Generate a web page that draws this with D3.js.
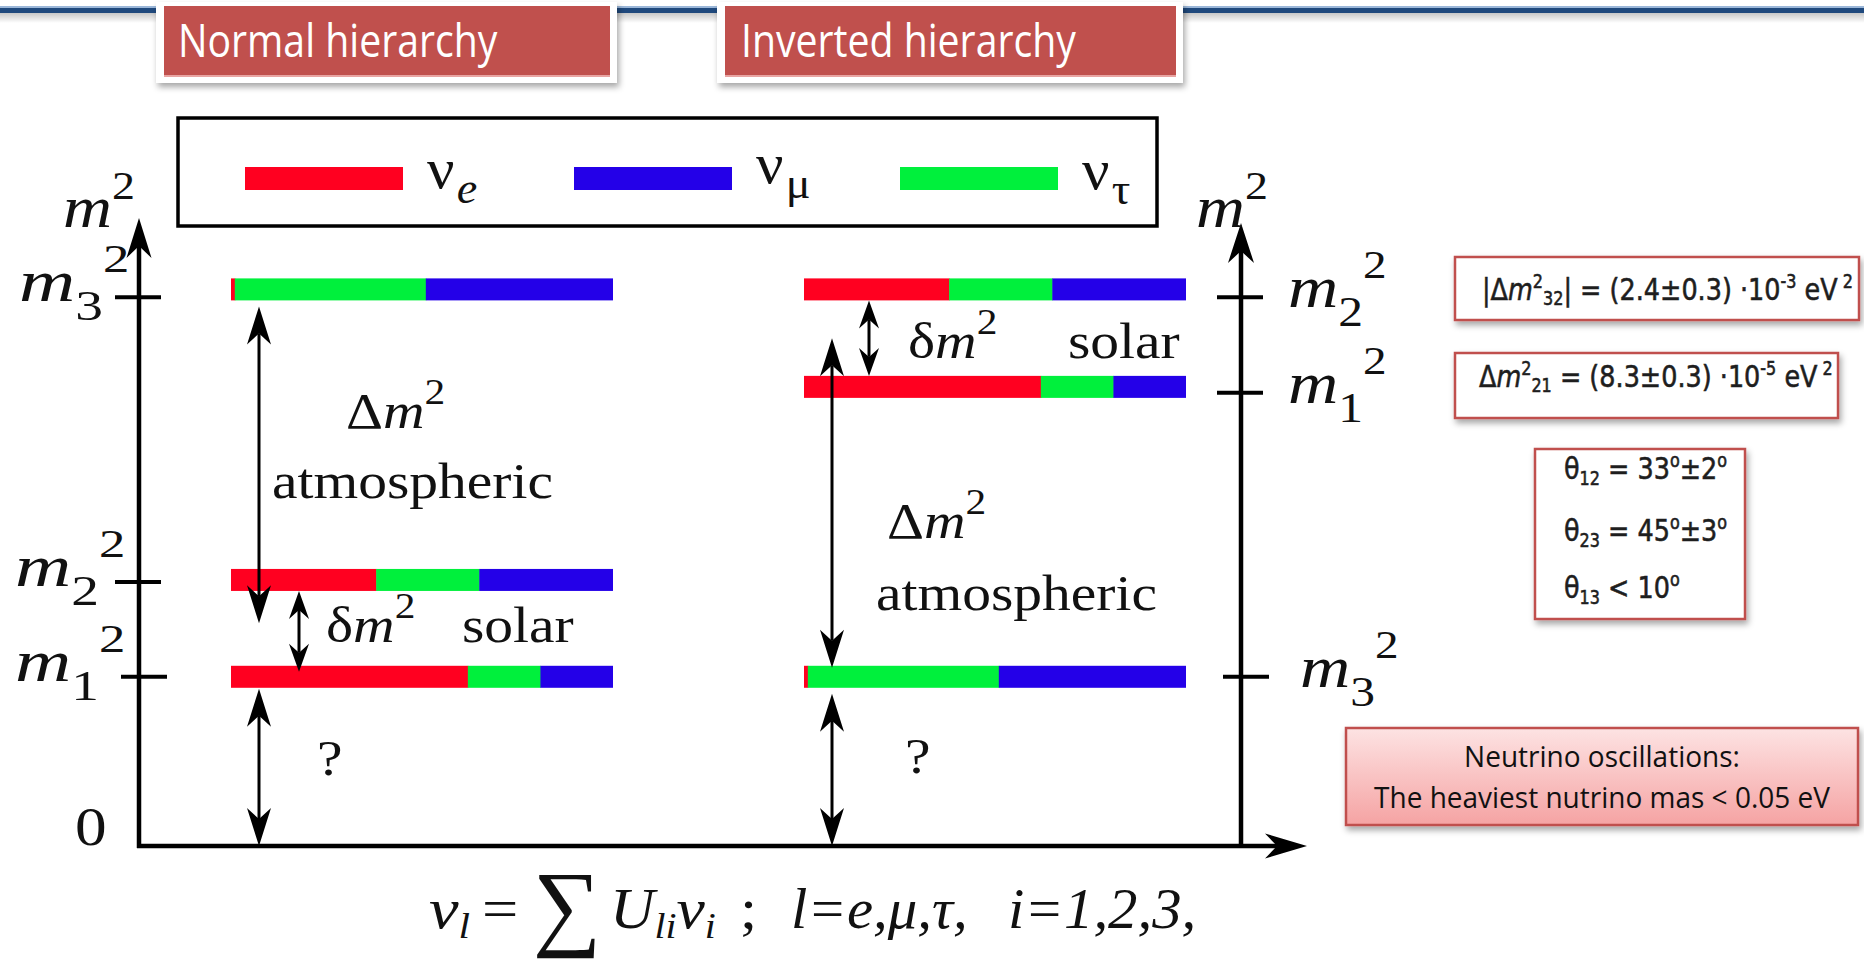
<!DOCTYPE html>
<html><head><meta charset="utf-8">
<script src="https://cdn.jsdelivr.net/npm/d3@7"></script>
<style>body{margin:0;background:#fff} svg{display:block}</style>
</head><body><svg id="c" width="1864" height="964"></svg>
<script>
// ---------------- data ----------------
const massStates = ["1", "2", "3"];                 // m1, m2, m3
const normalLevels   = [27.3, 42.6, 88.5];          // schematic m^2 level (0..100)
const invertedLevels = [73.1, 88.5, 27.3];
const fracE   = [0.62, 0.38, 0.01];                 // flavour content of each mass state
const fracTau = [0.19, 0.27, 0.50];
const fracMu  = [0.19, 0.35, 0.49];
const flavours = ["e", "μ", "τ"];
const flavourColors = ["#ff0020", "#2400e8", "#00f03c"];
const headers = ["Normal hierarchy", "Inverted hierarchy"];
const thetaLines = [["12", " = 33", "±2"], ["23", " = 45", "±3"], ["13", " < 10", null]];
const noteLines = ["Neutrino oscillations:", "The heaviest nutrino mas < 0.05 eV"];

// ---------------- setup ----------------
const svg = d3.select("#c");
const SERIF = "'Liberation Serif','Times New Roman',serif";
const defs = svg.append("defs");
const sh = defs.append("filter").attr("id","shadow").attr("x","-10%").attr("y","-10%").attr("width","130%").attr("height","140%");
sh.append("feDropShadow").attr("dx",2).attr("dy",4).attr("stdDeviation",3).attr("flood-color","#000").attr("flood-opacity",0.35);
const grad = defs.append("linearGradient").attr("id","pink").attr("x1",0).attr("y1",0).attr("x2",0).attr("y2",1);
grad.append("stop").attr("offset","0%").attr("stop-color","#fde3e3");
grad.append("stop").attr("offset","100%").attr("stop-color","#f5a3a3");
const tg = defs.append("linearGradient").attr("id","topsh").attr("x1",0).attr("y1",0).attr("x2",0).attr("y2",1);
tg.append("stop").attr("offset","0%").attr("stop-color","#000").attr("stop-opacity",0.22);
tg.append("stop").attr("offset","100%").attr("stop-color","#000").attr("stop-opacity",0);

// top rule
svg.append("rect").attr("x",0).attr("y",6).attr("width",1864).attr("height",2).attr("fill","#9bb7d9");
svg.append("rect").attr("x",0).attr("y",8).attr("width",1864).attr("height",5).attr("fill","#1f497d");
svg.append("rect").attr("x",0).attr("y",13).attr("width",1864).attr("height",10).attr("fill","url(#topsh)");

// header boxes
const headerBoxes = [{x:156, w:461, tx:178}, {x:717, w:466, tx:741}];
headers.forEach((h, i) => {
  const b = headerBoxes[i];
  const g = svg.append("g");
  g.append("rect").attr("x",b.x).attr("y",2).attr("width",b.w).attr("height",81).attr("fill","#fff").attr("filter","url(#shadow)");
  g.append("rect").attr("x",b.x+8).attr("y",6).attr("width",b.w-15).attr("height",69).attr("fill","#c0504d");
  g.append("rect").attr("x",b.x+8).attr("y",75).attr("width",b.w-15).attr("height",2).attr("fill","#e8a4a2");
  g.append("text").attr("transform",`translate(${b.tx},57) scale(0.98,1.15)`)
    .attr("font-family","'Open Sans','Noto Sans',sans-serif")
    .attr("font-size",40).attr("fill","#fff").text(h);
});

// ---------------- scales ----------------
const yTick = d3.scaleLinear().domain([0,100]).range([846,226]);
const yBar  = d3.scaleLinear().domain([0,100]).range([849.6,216.6]);
const wScale = d3.scaleLinear().domain([0,1]).range([0,382]);
const BAR_H = 22;

const g = svg.append("g");

function head(tx, ty, ux, uy, len, hw, notch) {
  const bx = tx - ux*len, by = ty - uy*len, px = -uy, py = ux;
  const nx = tx - ux*(len-notch), ny = ty - uy*(len-notch);
  g.append("path").attr("d",`M${tx},${ty}L${bx+px*hw},${by+py*hw}L${nx},${ny}L${bx-px*hw},${by-py*hw}Z`).attr("fill","#000");
}
function arrow(x1,y1,x2,y2,both,len,hw,notch,sw) {
  const dx=x2-x1, dy=y2-y1, L=Math.hypot(dx,dy), ux=dx/L, uy=dy/L;
  const s = both ? len-notch : 0, e = len-notch;
  g.append("line").attr("x1",x1+ux*s).attr("y1",y1+uy*s).attr("x2",x2-ux*e).attr("y2",y2-uy*e)
    .attr("stroke","#000").attr("stroke-width",sw);
  head(x2,y2,ux,uy,len,hw,notch);
  if (both) head(x1,y1,-ux,-uy,len,hw,notch);
}
function stxt(x, y, sx, parts) {
  const t = g.append("text").attr("transform",`translate(${x},${y}) scale(${sx},1)`)
    .attr("font-family",SERIF).attr("fill","#111");
  parts.forEach(p => {
    const s = t.append("tspan").text(p.t).attr("font-size",p.fs);
    if (p.it) s.attr("font-style","italic");
    if (p.dy) s.attr("dy",p.dy);
    if (p.dx) s.attr("dx",p.dx);
  });
  return t;
}
function mLabel(x, y, sub, sup, sx) {
  const parts = [{t:"m", fs:59, it:true}];
  if (sub) parts.push({t:sub, fs:42, dy:19});
  parts.push({t:sup, fs:40, dy: sub ? -48 : -28});
  stxt(x, y, sx, parts);
}

// axes
arrow(139, 848, 139, 218, false, 40, 12.5, 12, 4.5);
arrow(137, 846, 1307, 846, false, 42, 12.5, 12, 4.5);
arrow(1241, 848, 1241, 223, false, 40, 13, 12, 4.5);
mLabel(63, 227, null, "2", 1.15);
mLabel(1196, 227, null, "2", 1.15);
stxt(75, 845, 1.15, [{t:"0", fs:55}]);

// panels
const panels = [
  {levels: normalLevels, x0: 231, axisX: 139, tickOff: [6, 0, 0],
   lab: (i, yy) => mLabel(i===2?19:15, yy, massStates[i], "2", 1.32)},
  {levels: invertedLevels, x0: 804, axisX: 1241, tickOff: [0, 0, 6],
   lab: (i, yy) => mLabel(i===2?1300:1288, yy, massStates[i], "2", 1.18)}
];
panels.forEach((p, pi) => {
  massStates.forEach((st, i) => {
    const v = p.levels[i];
    const cy = yBar(v);
    const fr = [fracE[i], fracTau[i], fracMu[i]];
    const cols = [flavourColors[0], flavourColors[2], flavourColors[1]];
    let acc = 0;
    fr.forEach((f, k) => {
      g.append("rect").attr("x", p.x0 + wScale(acc)).attr("y", cy - BAR_H/2)
        .attr("width", wScale(f) + (k<2?0.5:0)).attr("height", BAR_H).attr("fill", cols[k]);
      acc += f;
    });
    const ty = yTick(v);
    const o = p.tickOff[i];
    g.append("line").attr("x1", p.axisX-24+o).attr("x2", p.axisX+22+o).attr("y1", ty).attr("y2", ty)
      .attr("stroke","#000").attr("stroke-width",4);
    p.lab(i, ty + (pi===0 ? 4 : 10));
  });
});

// normal hierarchy arrows + labels
{
  const L = normalLevels, x0 = 231;
  const b1 = yBar(L[0]), b2 = yBar(L[1]), b3 = yBar(L[2]);
  arrow(x0+28, b3+BAR_H/2+6, x0+28, (b1+b2)/2-5, true, 38, 12, 11, 3);
  arrow(x0+68, b2+BAR_H/2, x0+68, b1-5, true, 28, 10, 9, 3);
  arrow(x0+28, b1+BAR_H/2+1, x0+28, yTick(0), true, 38, 12, 11, 3);
  stxt(346, 428, 1.15, [{t:"Δ", fs:50}, {t:"m", fs:50, it:true}, {t:"2", fs:36, dy:-24}]);
  stxt(272, 498, 1.15, [{t:"atmospheric", fs:50}]);
  stxt(326, 642, 1.15, [{t:"δ", fs:50}, {t:"m", fs:50, it:true}, {t:"2", fs:36, dy:-24}]);
  stxt(462, 642, 1.15, [{t:"solar", fs:50}]);
  stxt(317, 775, 1.15, [{t:"?", fs:50}]);
}
// inverted hierarchy arrows + labels
{
  const L = invertedLevels, x0 = 804;
  const b1 = yBar(L[0]), b2 = yBar(L[1]), b3 = yBar(L[2]);
  arrow(x0+28, b3-BAR_H/2+2, x0+28, (b1+b2)/2, true, 38, 12, 11, 3);
  arrow(x0+65, b2+BAR_H/2, x0+65, b1-BAR_H/2, true, 28, 10, 9, 3);
  arrow(x0+28, b3+BAR_H/2+6, x0+28, yTick(0), true, 38, 12, 11, 3);
  stxt(887, 538, 1.15, [{t:"Δ", fs:50}, {t:"m", fs:50, it:true}, {t:"2", fs:36, dy:-24}]);
  stxt(876, 610, 1.15, [{t:"atmospheric", fs:50}]);
  stxt(908, 358, 1.15, [{t:"δ", fs:50}, {t:"m", fs:50, it:true}, {t:"2", fs:36, dy:-24}]);
  stxt(1068, 358, 1.15, [{t:"solar", fs:50}]);
  stxt(905, 773, 1.15, [{t:"?", fs:50}]);
}

// legend
g.append("rect").attr("x",178).attr("y",118).attr("width",979).attr("height",108)
  .attr("fill","none").attr("stroke","#000").attr("stroke-width",3.5);
const legendX = [245, 574, 900];
const legendBase = [188, 183, 189];
flavours.forEach((f, i) => {
  g.append("rect").attr("x",legendX[i]).attr("y",167).attr("width",158).attr("height",23).attr("fill",flavourColors[i]);
  stxt(legendX[i]+182, legendBase[i], 1.05, [{t:"ν", fs:58}, {t:f, fs:44, dy:15, dx:2, it: f==="e"}]);
});

// bottom formula
stxt(429, 928, 1.15, [{t:"ν", fs:58, it:true}, {t:"l", fs:36, it:true, dy:10}]);
stxt(482, 928, 1.15, [{t:"=", fs:56}]);
stxt(533, 938, 1.0, [{t:"∑", fs:96}]);
stxt(610, 928, 1.1, [{t:"U", fs:56, it:true}, {t:"li", fs:36, it:true, dy:10}, {t:"ν", fs:58, it:true, dy:-10}, {t:"i", fs:36, it:true, dy:10}]);
stxt(740, 928, 1.1, [{t:";", fs:56}]);
stxt(791, 928, 1.05, [{t:"l=e,μ,τ,", fs:56, it:true}]);
stxt(1008, 928, 1.05, [{t:"i=1,2,3,", fs:56, it:true}]);

// ---------------- right-side info boxes ----------------
const SANS = "'DejaVu Sans',Verdana,sans-serif";
function box(x,y,w,h,fill) {
  svg.append("rect").attr("x",x).attr("y",y).attr("width",w).attr("height",h)
    .attr("fill",fill).attr("stroke","#c0504d").attr("stroke-width",2.5).attr("filter","url(#shadow)");
}
function btxt(x, y, parts, fs) {
  const t = svg.append("text").attr("transform",`translate(${x},${y}) scale(1,1.2)`)
    .attr("font-family",SANS).attr("font-size",fs).attr("fill","#1e1e1e")
    .attr("stroke","#1e1e1e").attr("stroke-width",0.5);
  parts.forEach(p => {
    const s = t.append("tspan").text(p.t);
    if (p.fs) s.attr("font-size",p.fs);
    if (p.it) s.attr("font-style","italic");
    if (p.dy) s.attr("dy",p.dy);
  });
}
box(1455,257,404,63,"#fff");
btxt(1482, 300, [{t:"|Δ"}, {t:"m", it:true}, {t:"2", fs:16, dy:-10}, {t:"32", fs:16, dy:14},
  {t:"| = (2.4±0.3) ·10", dy:-4}, {t:"-3", fs:16, dy:-10}, {t:" eV", dy:10}, {t:" 2", fs:16, dy:-10}], 25.5);
box(1455,353,383,65,"#fff");
btxt(1479, 387, [{t:"Δ"}, {t:"m", it:true}, {t:"2", fs:16, dy:-10}, {t:"21", fs:16, dy:14},
  {t:" = (8.3±0.3) ·10", dy:-4}, {t:"-5", fs:16, dy:-10}, {t:" eV", dy:10}, {t:" 2", fs:16, dy:-10}], 25.5);
box(1535,449,210,170,"#fff");
const thetaBase = [479, 541, 598];
thetaLines.forEach((ln, i) => {
  const parts = [{t:"θ"}, {t:ln[0], fs:16, dy:5}, {t:ln[1], dy:-5}, {t:"o", fs:16, dy:-10}];
  if (ln[2]) { parts.push({t:ln[2], dy:10}); parts.push({t:"o", fs:16, dy:-10}); }
  btxt(1564, thetaBase[i], parts, 25.5);
});
box(1346,728,512,97,"url(#pink)");
const noteBase = [767, 808];
noteLines.forEach((ln, i) => {
  svg.append("text").attr("transform",`translate(1602,${noteBase[i]}) scale(1,1.06)`).attr("text-anchor","middle")
    .attr("font-family","'Open Sans','Noto Sans',sans-serif").attr("font-size",28).attr("fill","#111").text(ln);
});
</script></body></html>
